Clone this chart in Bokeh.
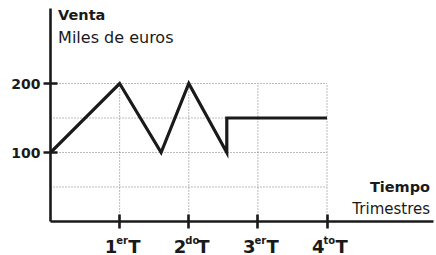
from bokeh.plotting import figure
from bokeh.models import Range1d, FixedTicker, ColumnDataSource
from bokeh.core.properties import value
from bokeh.embed import file_html
from bokeh.resources import INLINE

# data
quarter_x = [0, 1, 1.6, 2, 2.55, 2.55, 4]
sales_y = [100, 200, 100, 200, 100, 150, 150]

y_ticks = [100, 200]
y_grid = [50, 100, 150, 200]
x_ticks = [1, 2, 3, 4]
x_num = ["1", "2", "3", "4"]
x_sup = ["er", "do", "er", "to"]
x_T = ["T", "T", "T", "T"]

FONT = "DejaVu Sans"
INK = "#1a1a1a"

p = figure(width=436, height=255, output_backend="svg", toolbar_location=None,
           x_range=Range1d(0, 5.54), y_range=Range1d(0, 308.7),
           min_border_left=50, min_border_right=3, min_border_top=8, min_border_bottom=34)
p.outline_line_color = None
p.background_fill_color = "white"
p.xgrid.visible = False
p.ygrid.visible = False

# axes
for ax in (p.xaxis[0], p.yaxis[0]):
    ax.axis_line_width = 2.6
    ax.axis_line_color = INK
    ax.major_tick_in = 7
    ax.major_tick_out = 7
    ax.major_tick_line_width = 2.6
    ax.major_tick_line_color = INK
    ax.minor_tick_line_color = None
p.yaxis[0].ticker = FixedTicker(ticks=y_ticks)
p.xaxis[0].ticker = FixedTicker(ticks=x_ticks)
p.yaxis[0].major_label_text_font = FONT
p.yaxis[0].major_label_text_font_style = "bold"
p.yaxis[0].major_label_text_font_size = "14px"
p.yaxis[0].major_label_text_color = INK
p.yaxis[0].major_label_standoff = 3
p.xaxis[0].major_label_text_font_size = "0px"
p.xaxis[0].major_label_text_alpha = 0

# dotted grid box
gmax_x = max(x_ticks)
gmax_y = max(y_ticks)
p.segment(x0=[0] * len(y_grid), y0=y_grid, x1=[gmax_x] * len(y_grid), y1=y_grid,
          line_color="#777777", line_width=1, line_dash="1 2")
p.segment(x0=x_ticks, y0=[0] * len(x_ticks), x1=x_ticks, y1=[gmax_y] * len(x_ticks),
          line_color="#777777", line_width=1, line_dash="1 2")

# data line
p.line(quarter_x, sales_y, line_color=INK, line_width=3.2, line_join="miter")

# x tick labels
src = ColumnDataSource(dict(x=x_ticks, y=[0] * len(x_ticks), num=x_num, sup=x_sup, t=x_T))
p.text(x="x", y="y", text="num", source=src, text_font=value(FONT), text_font_style="bold",
       text_font_size="18px", text_color=INK, text_align="left", text_baseline="alphabetic",
       x_offset=-15, y_offset=24.5, level="overlay")
p.text(x="x", y="y", text="sup", source=src, text_font=value(FONT), text_font_style="bold",
       text_font_size="10px", text_color=INK, text_align="left", text_baseline="alphabetic",
       x_offset=-3.5, y_offset=18.5, level="overlay")
p.text(x="x", y="y", text="t", source=src, text_font=value(FONT), text_font_style="bold",
       text_font_size="18px", text_color=INK, text_align="left", text_baseline="alphabetic",
       x_offset=8.5, y_offset=24.5, level="overlay")

# titles
p.text(x=[0.11], y=[299], text=["Venta"], text_font=value(FONT), text_font_style="bold",
       text_font_size="14.5px", text_color=INK, text_baseline="alphabetic", level="overlay")
p.text(x=[0.11], y=[267], text=["Miles de euros"], text_font=value(FONT),
       text_font_size="16px", text_color=INK, text_baseline="alphabetic", level="overlay")
p.text(x=[5.49], y=[50.5], text=["Tiempo"], text_font=value(FONT), text_font_style="bold",
       text_font_size="14.5px", text_color=INK, text_align="right", text_baseline="alphabetic",
       level="overlay")
p.text(x=[5.49], y=[18.5], text=["Trimestres"], text_font=value(FONT),
       text_font_size="15px", text_color=INK, text_align="right", text_baseline="alphabetic",
       level="overlay")

open("out.html", "w").write(file_html(p, INLINE))
